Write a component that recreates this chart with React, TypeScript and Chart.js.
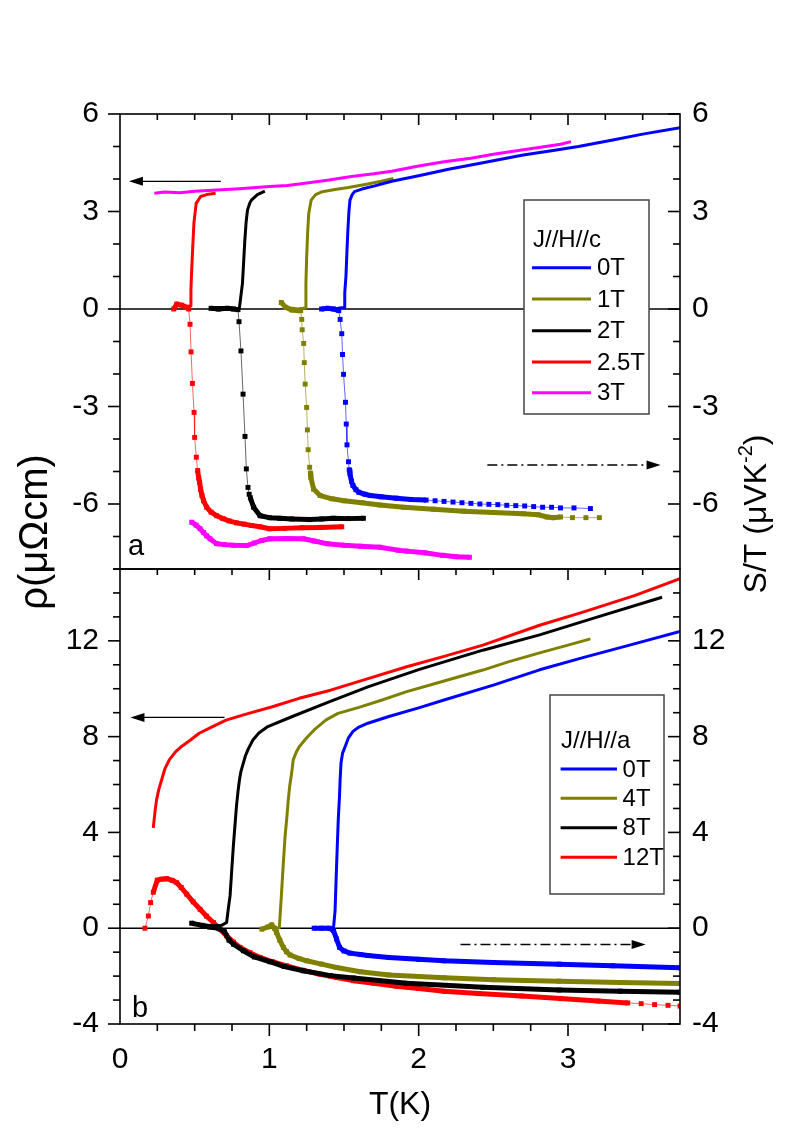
import { useEffect, useRef } from "react"
import { Chart, registerables } from "chart.js"

Chart.register(...registerables)

const FONT = "'Liberation Sans', Arial, Helvetica, sans-serif"
Chart.defaults.font.family = FONT
Chart.defaults.color = "#000"

type Pt = [number, number]
type Range = [number, number]

// ---- axes ----
const tRange: Range = [0, 3.75]
const tMajor = [0, 1, 2, 3]
const tMinor = [0.25, 0.5, 0.75, 1, 1.25, 1.5, 1.75, 2, 2.25, 2.5, 2.75, 3, 3.25, 3.5]

const yRangeC: Range = [-8, 6]
const yMajorC = [-6, -3, 0, 3, 6]
const yMinorC = [-8, -7, -6, -5, -4, -3, -2, -1, 0, 1, 2, 3, 4, 5, 6]

const yRangeA: Range = [-4, 15]
const yMajorA = [-4, 0, 4, 8, 12]
const yMinorA = [-4, -3, -2, -1, 0, 1, 2, 3, 4, 5, 6, 7, 8, 9, 10, 11, 12, 13, 14, 15]

// ---- panel a : J//H//c ----
const fieldsC = ["0T", "1T", "2T", "2.5T", "3T"]

// resistivity [T (K), rho (μΩcm)]
const rhoC_0T: Pt[] = [[1.40, 0.02], [1.44, 0.0], [1.47, 0.03], [1.50, 0.05], [1.505, 0.5], [1.513, 1.0], [1.52, 1.8], [1.526, 2.43], [1.533, 3.0], [1.54, 3.35], [1.555, 3.52], [1.57, 3.61], [1.62, 3.69], [1.70, 3.78], [1.82, 3.93], [2.0, 4.1], [2.2, 4.3], [2.43, 4.5], [2.7, 4.74], [2.9, 4.88], [3.07, 5.0], [3.3, 5.2], [3.5, 5.38], [3.75, 5.58]]
const rhoC_1T: Pt[] = [[1.08, 0.22], [1.10, 0.08], [1.14, 0.03], [1.19, 0.0], [1.24, 0.03], [1.245, 0.8], [1.25, 1.61], [1.257, 2.4], [1.264, 2.94], [1.28, 3.35], [1.31, 3.52], [1.354, 3.61], [1.44, 3.68], [1.53, 3.74], [1.65, 3.84], [1.75, 3.93], [1.83, 4.02]]
const rhoC_2T: Pt[] = [[0.61, 0.03], [0.68, 0.05], [0.74, 0.02], [0.79, 0.0], [0.80, 0.05], [0.82, 0.79], [0.836, 2.12], [0.845, 2.7], [0.854, 3.05], [0.87, 3.27], [0.88, 3.35], [0.92, 3.52], [0.97, 3.63]]
const rhoC_25T: Pt[] = [[0.37, 0.05], [0.39, 0.15], [0.42, 0.14], [0.45, 0.08], [0.47, 0.1], [0.475, 0.6], [0.48, 1.2], [0.487, 1.9], [0.495, 2.64], [0.51, 3.25], [0.54, 3.46], [0.58, 3.52], [0.64, 3.56]]
const rhoC_3T: Pt[] = [[0.23, 3.56], [0.3, 3.6], [0.4, 3.58], [0.5, 3.62], [0.65, 3.66], [0.8, 3.7], [0.89, 3.73], [1.0, 3.77], [1.12, 3.8], [1.25, 3.88], [1.4, 3.97], [1.55, 4.08], [1.7, 4.16], [1.82, 4.24], [2.0, 4.4], [2.17, 4.53], [2.35, 4.64], [2.5, 4.76], [2.69, 4.89], [2.85, 5.0], [2.95, 5.07], [3.02, 5.15]]

// thermopower S/T [T (K), S/T (μV K^-2)]
const stC_0T: Pt[] = [[1.35, 0.0], [1.39, 0.02], [1.43, 0.0], [1.465, -0.05], [1.474, -0.32], [1.485, -0.76], [1.49, -1.40], [1.497, -2.01], [1.51, -2.87], [1.515, -3.54], [1.52, -4.18], [1.53, -4.70], [1.535, -4.95], [1.54, -5.07], [1.55, -5.3], [1.56, -5.43], [1.58, -5.56], [1.60, -5.64], [1.64, -5.7], [1.675, -5.74], [1.75, -5.78], [1.85, -5.82], [1.95, -5.86], [2.05, -5.88], [2.11, -5.9], [2.17, -5.92], [2.23, -5.94], [2.29, -5.96], [2.35, -5.98], [2.41, -6.0], [2.47, -6.01], [2.53, -6.02], [2.59, -6.04], [2.65, -6.05], [2.71, -6.06], [2.77, -6.08], [2.83, -6.1], [2.89, -6.1], [2.95, -6.12], [3.04, -6.12], [3.15, -6.14]]
const stC_1T: Pt[] = [[1.08, 0.2], [1.11, 0.05], [1.15, -0.03], [1.19, -0.05], [1.21, -0.05], [1.217, -0.32], [1.22, -0.64], [1.23, -1.06], [1.234, -1.65], [1.24, -2.31], [1.25, -3.03], [1.255, -3.72], [1.26, -4.33], [1.27, -4.87], [1.275, -5.05], [1.278, -5.18], [1.296, -5.54], [1.34, -5.74], [1.42, -5.84], [1.50, -5.90], [1.62, -5.96], [1.74, -6.03], [1.9, -6.1], [2.1, -6.16], [2.3, -6.22], [2.5, -6.26], [2.7, -6.3], [2.8, -6.33], [2.86, -6.4], [2.9, -6.42], [2.95, -6.4], [3.03, -6.42], [3.12, -6.42], [3.21, -6.42]]
const stC_2T: Pt[] = [[0.61, 0.02], [0.66, 0.0], [0.72, 0.02], [0.76, 0.0], [0.79, -0.02], [0.797, -0.39], [0.81, -1.29], [0.824, -2.62], [0.837, -3.92], [0.846, -4.92], [0.857, -5.49], [0.865, -5.7], [0.873, -5.81], [0.895, -6.10], [0.938, -6.36], [1.0, -6.42], [1.07, -6.44], [1.15, -6.46], [1.27, -6.48], [1.35, -6.46], [1.43, -6.44], [1.53, -6.45], [1.63, -6.44]]
const stC_25T: Pt[] = [[0.36, 0.0], [0.38, 0.15], [0.41, 0.12], [0.44, 0.05], [0.46, 0.0], [0.469, -0.47], [0.476, -1.32], [0.485, -2.29], [0.496, -3.18], [0.50, -3.95], [0.511, -4.56], [0.52, -4.97], [0.527, -5.2], [0.533, -5.33], [0.54, -5.55], [0.549, -5.74], [0.56, -5.9], [0.58, -6.10], [0.61, -6.25], [0.647, -6.36], [0.69, -6.45], [0.73, -6.52], [0.78, -6.58], [0.83, -6.62], [0.88, -6.66], [0.938, -6.7], [1.0, -6.76], [1.1, -6.75], [1.22, -6.73], [1.34, -6.72], [1.485, -6.70]]
const stC_3T: Pt[] = [[0.48, -6.56], [0.51, -6.65], [0.536, -6.76], [0.56, -6.88], [0.58, -6.98], [0.603, -7.07], [0.647, -7.22], [0.7, -7.25], [0.76, -7.27], [0.848, -7.28], [0.9, -7.2], [0.95, -7.12], [1.005, -7.07], [1.12, -7.06], [1.228, -7.07], [1.3, -7.14], [1.385, -7.22], [1.5, -7.27], [1.61, -7.3], [1.74, -7.33], [1.86, -7.42], [1.92, -7.45], [2.04, -7.5], [2.16, -7.58], [2.25, -7.62], [2.34, -7.64]]

// ---- panel b : J//H//a ----
const fieldsA = ["0T", "4T", "8T", "12T"]

const rhoA_0T: Pt[] = [[1.30, 0.0], [1.35, 0.03], [1.40, 0.0], [1.43, 0.04], [1.44, 0.7], [1.447, 2.0], [1.455, 3.43], [1.462, 4.6], [1.47, 5.51], [1.474, 6.2], [1.48, 6.9], [1.49, 7.3], [1.51, 7.62], [1.53, 7.95], [1.56, 8.22], [1.6, 8.4], [1.66, 8.56], [1.8, 8.84], [2.0, 9.2], [2.17, 9.53], [2.5, 10.15], [2.81, 10.79], [3.1, 11.3], [3.4, 11.8], [3.75, 12.39]]
const rhoA_4T: Pt[] = [[0.98, 0.02], [1.02, 0.05], [1.05, 0.0], [1.067, 0.02], [1.08, 1.3], [1.094, 2.74], [1.105, 3.8], [1.116, 4.54], [1.126, 5.3], [1.136, 5.92], [1.15, 6.5], [1.16, 7.03], [1.18, 7.35], [1.2, 7.58], [1.25, 7.95], [1.30, 8.28], [1.38, 8.7], [1.46, 8.97], [1.6, 9.22], [1.75, 9.52], [1.92, 9.88], [2.1, 10.2], [2.27, 10.5], [2.43, 10.78], [2.6, 11.12], [2.81, 11.5], [3.0, 11.82], [3.15, 12.08]]
const rhoA_8T: Pt[] = [[0.48, 0.22], [0.55, 0.15], [0.62, 0.1], [0.68, 0.12], [0.714, 0.24], [0.725, 0.8], [0.737, 1.35], [0.748, 2.4], [0.759, 3.43], [0.77, 4.3], [0.78, 5.1], [0.79, 5.7], [0.80, 6.2], [0.81, 6.55], [0.84, 7.2], [0.86, 7.5], [0.89, 7.86], [0.93, 8.15], [0.99, 8.42], [1.15, 8.83], [1.4, 9.45], [1.66, 10.08], [2.0, 10.8], [2.43, 11.61], [2.81, 12.25], [3.2, 13.0], [3.63, 13.82]]
const rhoA_12T: Pt[] = [[0.223, 4.19], [0.235, 4.9], [0.245, 5.37], [0.26, 5.8], [0.279, 6.2], [0.30, 6.65], [0.33, 7.03], [0.37, 7.35], [0.41, 7.58], [0.47, 7.85], [0.53, 8.14], [0.62, 8.42], [0.71, 8.69], [0.85, 8.95], [1.02, 9.25], [1.2, 9.6], [1.41, 9.94], [1.65, 10.4], [1.92, 10.92], [2.17, 11.35], [2.43, 11.82], [2.81, 12.65], [3.1, 13.2], [3.45, 13.9], [3.75, 14.6]]

const stA_0T: Pt[] = [[1.30, 0.0], [1.35, 0.0], [1.40, 0.0], [1.43, -0.1], [1.45, -0.45], [1.47, -0.8], [1.50, -0.95], [1.54, -1.04], [1.61, -1.1], [1.66, -1.14], [1.8, -1.22], [2.0, -1.3], [2.17, -1.36], [2.5, -1.43], [2.94, -1.5], [3.3, -1.57], [3.75, -1.65]]
const stA_4T: Pt[] = [[0.95, -0.04], [0.99, 0.05], [1.016, 0.14], [1.035, 0.0], [1.049, -0.18], [1.07, -0.5], [1.094, -0.8], [1.115, -0.98], [1.139, -1.12], [1.2, -1.27], [1.25, -1.36], [1.35, -1.5], [1.45, -1.64], [1.61, -1.82], [1.8, -1.95], [2.17, -2.07], [2.5, -2.15], [2.94, -2.21], [3.35, -2.27], [3.75, -2.31]]
const stA_8T: Pt[] = [[0.48, 0.21], [0.55, 0.12], [0.6, 0.05], [0.66, 0.0], [0.70, -0.15], [0.73, -0.5], [0.76, -0.67], [0.826, -0.94], [0.9, -1.2], [1.005, -1.40], [1.1, -1.6], [1.228, -1.78], [1.41, -1.98], [1.563, -2.08], [1.92, -2.3], [2.43, -2.47], [2.94, -2.58], [3.35, -2.63], [3.75, -2.67]]
const stA_12T: Pt[] = [[0.167, 0.0], [0.19, 0.51], [0.205, 1.07], [0.223, 1.5], [0.25, 2.01], [0.28, 2.05], [0.313, 2.07], [0.35, 2.0], [0.38, 1.9], [0.41, 1.7], [0.447, 1.42], [0.49, 1.1], [0.536, 0.79], [0.58, 0.5], [0.625, 0.24], [0.67, -0.05], [0.714, -0.32], [0.76, -0.58], [0.804, -0.80], [0.87, -1.02], [0.938, -1.22], [1.02, -1.4], [1.116, -1.57], [1.22, -1.75], [1.34, -1.92], [1.45, -2.06], [1.563, -2.19], [1.7, -2.3], [1.85, -2.42], [2.0, -2.52], [2.17, -2.63], [2.4, -2.73], [2.69, -2.83], [2.95, -2.94], [3.2, -3.04], [3.4, -3.12], [3.49, -3.15], [3.58, -3.19], [3.67, -3.22], [3.75, -3.25]]

// ---- styles ----
const BLUE = "#0000ff"
const OLIVE = "#808000"
const BLACK = "#000000"
const RED = "#ff0000"
const MAGENTA = "#ff00ff"

const colorsC = [BLUE, OLIVE, BLACK, RED, MAGENTA]
const colorsA = [BLUE, OLIVE, BLACK, RED]

// T ranges where the S/T squares stand apart (thin joining line)
const sparseC: Range[][] = [[[1.465, 1.535], [2.05, 3.16]], [[1.21, 1.275], [2.95, 3.22]], [[0.79, 0.873]], [[0.46, 0.52]], []]
const sparseA: Range[][] = [[], [], [], [[0.16, 0.226], [3.39, 3.76]]]

const xy = (pts: Pt[]) => pts.map(([x, y]) => ({ x, y }))

function rhoSet(label: string, pts: Pt[], color: string) {
  return {
    label,
    data: xy(pts),
    showLine: true,
    borderColor: color,
    backgroundColor: color,
    borderWidth: 3,
    borderJoinStyle: "round",
    pointRadius: 0,
    inLegend: true,
  }
}

function seebeckSet(label: string, pts: Pt[], color: string, sparse: Range[]) {
  const thin = (c: any) =>
    sparse.some(([s, e]) => c.p0.parsed.x >= s && c.p1.parsed.x <= e)
  return {
    label: label + " S/T",
    data: xy(pts),
    showLine: true,
    borderColor: color,
    backgroundColor: color,
    borderWidth: 5,
    borderJoinStyle: "round",
    pointStyle: "rect",
    pointRadius: 3.5,
    pointBorderWidth: 0,
    segment: {
      borderWidth: (c: any) => (thin(c) ? 1 : 5),
      borderColor: (c: any) => (thin(c) ? color + "99" : color),
    },
    inLegend: false,
  }
}

function yAxis(position: "left" | "right", range: Range, major: number[]) {
  return {
    type: "linear",
    position,
    min: range[0],
    max: range[1],
    afterFit: (s: any) => {
      s.width = 120
    },
    afterBuildTicks: (s: any) => {
      s.ticks = major.map((v) => ({ value: v }))
    },
    grid: { display: false, drawTicks: false },
    border: { display: false },
    ticks: { padding: position === "left" ? 21 : 12, color: "#000", font: { family: FONT, size: 30 } },
  }
}

type Arrow = { from: number; to: number; y: number; dashed: boolean }
type Deco = {
  yMajor: number[]
  yMinor: number[]
  bottomTicks: boolean
  arrows: Arrow[]
  legend: { title: string; box: [number, number, number, number]; titleX: number; titleY: number; rows: number[]; lineX: [number, number]; textX: number }
  letter: { text: string; x: number; y: number }
  axisTitles: boolean
}

function line(ctx: CanvasRenderingContext2D, x0: number, y0: number, x1: number, y1: number) {
  ctx.beginPath()
  ctx.moveTo(x0, y0)
  ctx.lineTo(x1, y1)
  ctx.stroke()
}

function decoPlugin(d: Deco) {
  return {
    id: "deco",
    beforeDatasetsDraw(chart: any) {
      const { ctx, chartArea: a, scales } = chart
      const y0 = scales.y.getPixelForValue(0)
      ctx.save()
      ctx.strokeStyle = "#000"
      ctx.lineWidth = 1.6
      line(ctx, a.left, y0, a.right, y0)
      ctx.restore()
    },
    afterDraw(chart: any) {
      const { ctx, chartArea: a, scales } = chart
      const xs = scales.x
      const ys = scales.y
      ctx.save()
      ctx.strokeStyle = "#000"
      ctx.fillStyle = "#000"
      ctx.lineWidth = 1.6

      // frame and ticks
      ctx.strokeRect(a.left, a.top, a.right - a.left, a.bottom - a.top)
      for (const v of d.yMinor) {
        const p = ys.getPixelForValue(v)
        const len = d.yMajor.includes(v) ? 12 : 7
        line(ctx, a.left - len, p, a.left, p)
        line(ctx, a.right - len, p, a.right, p)
      }
      for (const v of tMinor) {
        const p = xs.getPixelForValue(v)
        const major = tMajor.includes(v)
        line(ctx, p, a.top, p, a.top + (major ? 11 : 6))
        if (d.bottomTicks) line(ctx, p, a.bottom, p, a.bottom + (major ? 12 : 7))
      }

      // arrows showing which axis a curve belongs to
      ctx.lineWidth = 1.3
      for (const ar of d.arrows) {
        const x0 = xs.getPixelForValue(ar.from)
        const x1 = xs.getPixelForValue(ar.to)
        const y = ys.getPixelForValue(ar.y)
        const dir = Math.sign(x1 - x0)
        ctx.setLineDash(ar.dashed ? [10, 4, 2, 4] : [])
        line(ctx, x0, y, x1 - dir * 12, y)
        ctx.setLineDash([])
        ctx.beginPath()
        ctx.moveTo(x1, y)
        ctx.lineTo(x1 - dir * 14, y - 4.5)
        ctx.lineTo(x1 - dir * 14, y + 4.5)
        ctx.closePath()
        ctx.fill()
      }

      // legend
      const L = d.legend
      const [bx, by, bw, bh] = L.box
      ctx.fillStyle = "#fff"
      ctx.fillRect(bx, by, bw, bh)
      ctx.strokeStyle = "#444"
      ctx.lineWidth = 1.5
      ctx.strokeRect(bx, by, bw, bh)
      ctx.fillStyle = "#000"
      ctx.textAlign = "left"
      ctx.textBaseline = "alphabetic"
      ctx.font = `24px ${FONT}`
      ctx.fillText(L.title, L.titleX, L.titleY)
      ctx.font = `24px ${FONT}`
      ctx.textBaseline = "middle"
      const items = chart.data.datasets.filter((ds: any) => ds.inLegend)
      items.forEach((ds: any, i: number) => {
        const y = L.rows[i]
        ctx.strokeStyle = ds.borderColor
        ctx.lineWidth = 3
        line(ctx, L.lineX[0], y, L.lineX[1], y)
        ctx.fillText(ds.label, L.textX, y + 1)
      })

      // panel letter
      ctx.textBaseline = "alphabetic"
      ctx.font = `29px ${FONT}`
      ctx.fillText(d.letter.text, d.letter.x, d.letter.y)

      // shared axis titles
      if (d.axisTitles) {
        ctx.save()
        ctx.translate(36, 532)
        ctx.rotate(-Math.PI / 2)
        ctx.textAlign = "center"
        ctx.font = `40px ${FONT}`
        ctx.fillText("ρ(μΩcm)", 0, 11)
        ctx.restore()

        ctx.save()
        ctx.translate(755, 514)
        ctx.rotate(-Math.PI / 2)
        ctx.textAlign = "left"
        const main = "S/T (μVK"
        const sup = "-2"
        const close = ")"
        ctx.font = `32px ${FONT}`
        const w1 = ctx.measureText(main).width
        const w3 = ctx.measureText(close).width
        ctx.font = `20px ${FONT}`
        const w2 = ctx.measureText(sup).width
        let x = -(w1 + w2 + w3) / 2
        ctx.font = `32px ${FONT}`
        ctx.fillText(main, x, 11)
        x += w1
        ctx.font = `20px ${FONT}`
        ctx.fillText(sup, x, 11 - 14)
        x += w2
        ctx.font = `32px ${FONT}`
        ctx.fillText(close, x, 11)
        ctx.restore()
      }
      ctx.restore()
    },
  }
}

function makeConfig(
  rho: Pt[][],
  st: Pt[][],
  labels: string[],
  colors: string[],
  sparse: Range[][],
  yRange: Range,
  yMajor: number[],
  padding: { top: number; bottom: number },
  xAxis: any,
  deco: Deco
): any {
  const datasets: any[] = []
  labels.forEach((lab, i) => datasets.push(rhoSet(lab, rho[i], colors[i])))
  labels.forEach((lab, i) => datasets.push(seebeckSet(lab, st[i], colors[i], sparse[i])))
  return {
    type: "scatter",
    data: { datasets },
    options: {
      responsive: false,
      animation: false,
      events: [],
      layout: { padding: { left: 0, right: 0, ...padding } },
      scales: {
        x: xAxis,
        y: yAxis("left", yRange, yMajor),
        y2: yAxis("right", yRange, yMajor),
      },
      plugins: { legend: { display: false }, tooltip: { enabled: false } },
    },
    plugins: [decoPlugin(deco)],
  }
}

export default function App() {
  const topRef = useRef<HTMLCanvasElement>(null)
  const bottomRef = useRef<HTMLCanvasElement>(null)

  useEffect(() => {
    if (!topRef.current || !bottomRef.current) return

    const top = new Chart(
      topRef.current,
      makeConfig(
        [rhoC_0T, rhoC_1T, rhoC_2T, rhoC_25T, rhoC_3T],
        [stC_0T, stC_1T, stC_2T, stC_25T, stC_3T],
        fieldsC,
        colorsC,
        sparseC,
        yRangeC,
        yMajorC,
        { top: 114, bottom: 569 },
        { type: "linear", min: tRange[0], max: tRange[1], display: false },
        {
          yMajor: yMajorC,
          yMinor: yMinorC,
          bottomTicks: false,
          arrows: [
            { from: 0.675, to: 0.06, y: 3.93, dashed: false },
            { from: 2.46, to: 3.62, y: -4.8, dashed: true },
          ],
          legend: { title: "J//H//c", box: [524, 200, 125, 214], titleX: 533, titleY: 247, rows: [267.7, 299, 330.7, 362, 392.7], lineX: [532, 591], textX: 597 },
          letter: { text: "a", x: 128, y: 555 },
          axisTitles: false,
        }
      )
    )

    const bottom = new Chart(
      bottomRef.current,
      makeConfig(
        [rhoA_0T, rhoA_4T, rhoA_8T, rhoA_12T],
        [stA_0T, stA_4T, stA_8T, stA_12T],
        fieldsA,
        colorsA,
        sparseA,
        yRangeA,
        yMajorA,
        { top: 569, bottom: 0 },
        {
          type: "linear",
          position: "bottom",
          min: tRange[0],
          max: tRange[1],
          afterFit: (s: any) => {
            s.height = 114
          },
          afterBuildTicks: (s: any) => {
            s.ticks = tMajor.map((v) => ({ value: v }))
          },
          grid: { display: false, drawTicks: false },
          border: { display: false },
          ticks: { padding: 18, color: "#000", font: { family: FONT, size: 30 } },
          title: { display: true, text: "T(K)", color: "#000", font: { family: FONT, size: 32 }, padding: { top: 0, bottom: 14 } },
        },
        {
          yMajor: yMajorA,
          yMinor: yMinorA,
          bottomTicks: true,
          arrows: [
            { from: 0.70, to: 0.07, y: 8.8, dashed: false },
            { from: 2.28, to: 3.52, y: -0.68, dashed: true },
          ],
          legend: { title: "J//H//a", box: [550, 695, 114, 199], titleX: 561, titleY: 748, rows: [769, 798.3, 827.7, 857.3], lineX: [560.6, 617], textX: 622.6 },
          letter: { text: "b", x: 132, y: 1017 },
          axisTitles: true,
        }
      )
    )

    return () => {
      top.destroy()
      bottom.destroy()
    }
  }, [])

  return (
    <div style={{ position: "absolute", left: 0, top: 0, width: 800, height: 1138, background: "#fff" }}>
      <canvas ref={topRef} width={800} height={1138} style={{ position: "absolute", left: 0, top: 0 }} />
      <canvas ref={bottomRef} width={800} height={1138} style={{ position: "absolute", left: 0, top: 0 }} />
    </div>
  )
}
